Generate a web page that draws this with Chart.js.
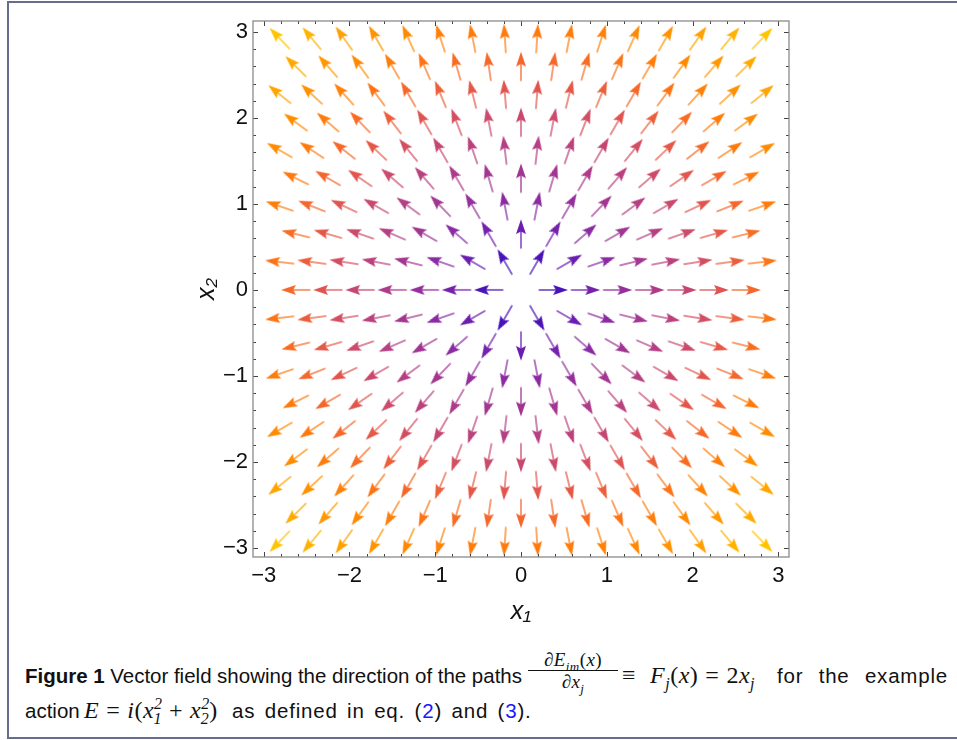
<!DOCTYPE html>
<html>
<head>
<meta charset="utf-8">
<script src="https://cdn.jsdelivr.net/npm/chart.js@4.4.1/dist/chart.umd.min.js"></script>
<style>
  html, body { margin: 0; padding: 0; background: #fff; width: 957px; height: 740px; overflow: hidden; }
  #box { position: absolute; left: 7px; top: 1px; width: 1000px; height: 734px; border: 2px solid #666c8c; }
  #plot { position: absolute; left: 0; top: 0; }
  .cap { position: absolute; font-family: "Liberation Sans", Arial, sans-serif; font-size: 20.5px; line-height: 24px; height: 24px; color: #111; white-space: nowrap; }
  .just { display: flex; justify-content: space-between; align-items: baseline; }
  .m { font-family: "Liberation Serif", "Times New Roman", serif; font-style: italic; font-size: 24px; letter-spacing: 0.5px; }
  .r { font-style: normal; }
  .rel { font-style: normal; margin: 0 7px; }
  .blue { color: #1a1aff; }
  sub, sup { font-size: 16px; line-height: 0; }
  .frac { position: absolute; font-family: "Liberation Serif", serif; font-style: italic; font-size: 19px; line-height: 19px; text-align: center; color: #111; letter-spacing: 0.4px; }
  .frac sub { font-size: 13px; }
  .frac .num { border-bottom: 1px solid #111; padding-bottom: 1px; }
  .frac .den { padding-top: 1px; }
  .wide { letter-spacing: 0.8px; word-spacing: 3px; }
</style>
</head>
<body>
<div id="box"></div>
<canvas id="plot" width="957" height="640"></canvas>

<div class="cap just" style="left:25px; top:664px; width:497px;"><b>Figure</b><b>1</b><span>Vector</span><span>field</span><span>showing</span><span>the</span><span>direction</span><span>of</span><span>the</span><span>paths</span></div>
<div class="frac" style="left:528px; top:650px; width:90px;"><div class="num"><span class="r">∂</span>E<sub>im</sub><span class="r">(</span>x<span class="r">)</span></div><div class="den"><span class="r">∂</span>x<sub>j</sub></div></div>
<div class="cap m" style="left:622px; top:663px;"><span class="r">≡</span><span class="rel"></span>F<sub>j</sub><span class="r">(</span>x<span class="r">)</span><span class="rel">=</span><span class="r">2</span>x<sub>j</sub></div>
<div class="cap just wide" style="left:777px; top:664px; width:171px;"><span>for</span><span>the</span><span>example</span></div>
<div class="cap" style="left:25px; top:699px;">action</div>
<div class="cap m" style="left:84px; top:698px;">E<span class="rel">=</span>i<span class="r">(</span>x<sup>2</sup><sub style="margin-left:-9px">1</sub><span class="rel">+</span>x<sup>2</sup><sub style="margin-left:-9px">2</sub><span class="r">)</span></div>
<div class="cap wide" style="left:232px; top:699px;">as defined in eq. (<span class="blue">2</span>) and (<span class="blue">3</span>).</div>

<script>
// grid of arrow positions (hexagonal layout)
const rowY = [2.923, 2.598, 2.274, 1.949, 1.624, 1.299, 0.974, 0.650, 0.325, 0,
  -0.325, -0.650, -0.974, -1.299, -1.624, -1.949, -2.274, -2.598, -2.923];
const evenX = [-2.625, -2.25, -1.875, -1.5, -1.125, -0.75, -0.375, 0,
  0.375, 0.75, 1.125, 1.5, 1.875, 2.25, 2.625];
const oddX = [-2.8125, -2.4375, -2.0625, -1.6875, -1.3125, -0.9375, -0.5625, -0.1875,
  0.1875, 0.5625, 0.9375, 1.3125, 1.6875, 2.0625, 2.4375, 2.8125];
const tickVals = [-3, -2, -1, 0, 1, 2, 3];

// colour by |F| (stops in units of |x|)
const colorStops = [
  [0.35, '#4612b8'], [0.65, '#6a1db0'], [0.97, '#8a2aa4'], [1.3, '#a03592'],
  [1.65, '#b63f82'], [2.0, '#cd4a6a'], [2.3, '#e3564c'], [2.6, '#f4662c'],
  [2.9, '#ff780e'], [3.3, '#ff8e00'], [3.7, '#ffaa00'], [4.05, '#ffc300']
];

function hex(c) { return [1, 3, 5].map(i => parseInt(c.substr(i, 2), 16)); }
function colorAt(r) {
  if (r <= colorStops[0][0]) return colorStops[0][1];
  for (let i = 1; i < colorStops.length; i++) {
    const [r1, c1] = colorStops[i];
    if (r <= r1) {
      const [r0, c0] = colorStops[i - 1];
      const t = (r - r0) / (r1 - r0);
      const a = hex(c0), b = hex(c1);
      return 'rgb(' + a.map((v, k) => Math.round(v + (b[k] - v) * t)).join(',') + ')';
    }
  }
  return colorStops[colorStops.length - 1][1];
}

// F_j(x) = 2 x_j at every grid point
const points = [];
rowY.forEach((y, i) => {
  const xs = i % 2 === 0 ? oddX : evenX;
  xs.forEach(x => {
    const u = 2 * x, v = 2 * y;
    if (u === 0 && v === 0) return;
    points.push({ x: x, y: y, u: u, v: v });
  });
});

// arrow glyph, pointing right, centred in its canvas
const arrowCache = {};
function arrowFor(color) {
  if (arrowCache[color]) return arrowCache[color];
  const c = document.createElement('canvas');
  c.width = 32; c.height = 14;
  const g = c.getContext('2d');
  g.strokeStyle = color;
  g.fillStyle = color;
  g.globalAlpha = 0.8;
  g.lineWidth = 1.6;
  g.beginPath(); g.moveTo(1.5, 7); g.lineTo(19, 7); g.stroke();
  g.globalAlpha = 1;
  g.beginPath();
  g.moveTo(30.8, 7); g.lineTo(16, 1.9); g.lineTo(18.6, 7); g.lineTo(16, 12.1);
  g.closePath(); g.fill();
  arrowCache[color] = c;
  return c;
}

const fmt = v => (v < 0 ? '\u2212' + Math.abs(v) : String(v));

// frame with inward ticks on all sides
const frameTicks = {
  id: 'frameTicks',
  afterDatasetsDraw(chart) {
    const { ctx, chartArea: a, scales: { x, y } } = chart;
    ctx.save();
    ctx.strokeStyle = '#444';
    ctx.lineWidth = 1;
    for (let k = -15; k <= 15; k++) {
      const v = k / 5;
      const len = k % 5 === 0 ? 5 : 3;
      const px = Math.round(x.getPixelForValue(v)) + 0.5;
      const py = Math.round(y.getPixelForValue(v)) + 0.5;
      ctx.beginPath();
      ctx.moveTo(px, a.bottom); ctx.lineTo(px, a.bottom - len);
      ctx.moveTo(px, a.top); ctx.lineTo(px, a.top + len);
      ctx.moveTo(a.left, py); ctx.lineTo(a.left + len, py);
      ctx.moveTo(a.right, py); ctx.lineTo(a.right - len, py);
      ctx.stroke();
    }
    ctx.strokeStyle = '#8a8a8a';
    ctx.lineWidth = 1.3;
    ctx.strokeRect(a.left, a.top, a.right - a.left, a.bottom - a.top);
    ctx.restore();
  }
};

const tickFont = { family: 'Liberation Sans', size: 22 };
const titleFont = { family: 'Liberation Sans', size: 25, style: 'italic' };

new Chart(document.getElementById('plot'), {
  type: 'scatter',
  data: {
    datasets: [{
      data: points,
      pointStyle: c => (c.raw ? arrowFor(colorAt(Math.hypot(c.raw.u, c.raw.v) / 2)) : 'circle'),
      rotation: c => (c.raw ? Math.atan2(-c.raw.v, c.raw.u) * 180 / Math.PI : 0),
      radius: 5
    }]
  },
  options: {
    responsive: false,
    animation: false,
    events: [],
    layout: { padding: { left: 0, top: 21, right: 168, bottom: 13 } },
    plugins: { legend: { display: false }, tooltip: { enabled: false } },
    scales: {
      x: {
        type: 'linear', min: -3.125, max: 3.125,
        afterFit: s => { s.height = 70; },
        afterBuildTicks: s => { s.ticks = tickVals.map(v => ({ value: v })); },
        grid: { display: false, drawTicks: false },
        border: { display: false },
        ticks: { font: tickFont, color: '#111', padding: 6, maxRotation: 0, callback: fmt },
        title: { display: true, text: 'x\u2081', font: titleFont, color: '#111', padding: { top: 0, bottom: 0 } }
      },
      y: {
        type: 'linear', min: -3.105, max: 3.128,
        afterFit: s => { s.width = 253; },
        afterBuildTicks: s => { s.ticks = tickVals.map(v => ({ value: v })); },
        grid: { display: false, drawTicks: false },
        border: { display: false },
        ticks: { font: tickFont, color: '#111', padding: 5, callback: fmt },
        title: { display: true, text: 'x\u2082', font: titleFont, color: '#111', padding: { top: 192, bottom: 0 } }
      }
    }
  },
  plugins: [frameTicks]
});
</script>
</body>
</html>
